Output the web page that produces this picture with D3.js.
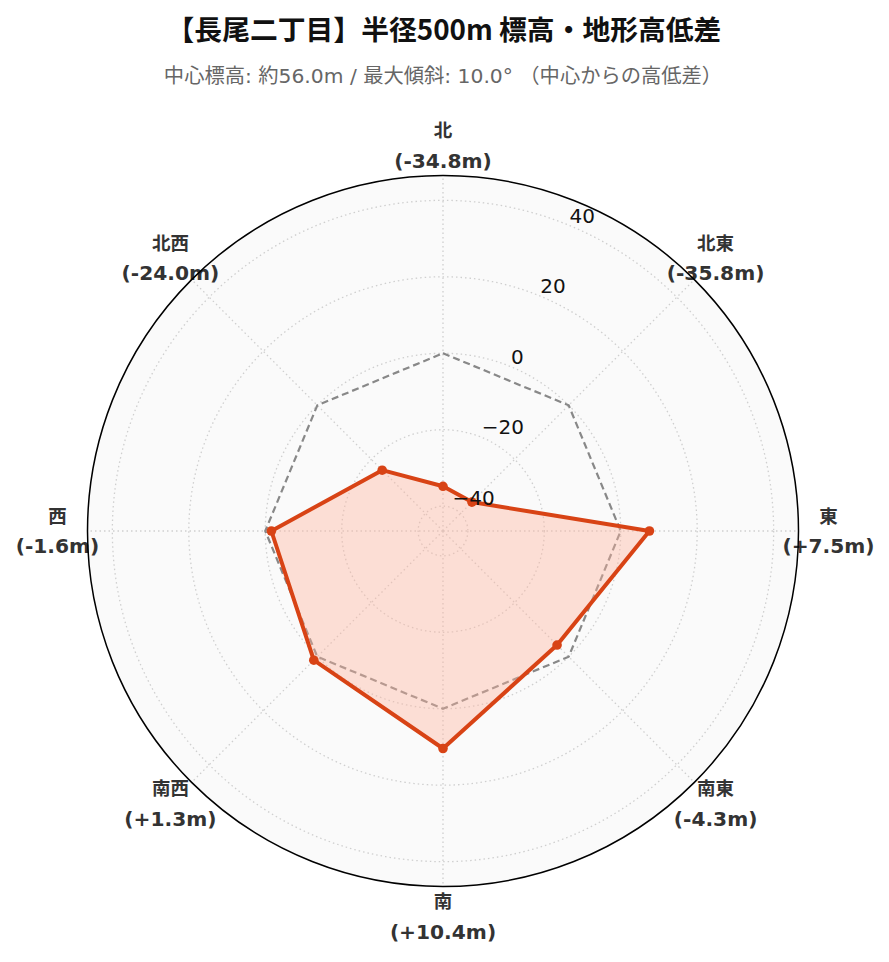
<!DOCTYPE html>
<html><head><meta charset="utf-8">
<script src="https://cdn.jsdelivr.net/npm/d3@7"></script>
<style>body{margin:0;background:#fff;} svg{display:block;}</style>
</head><body>
<svg id="chart" width="889" height="962"></svg>
<script>
const directions = ["北","北東","東","南東","南","南西","西","北西"];
const diffs = [-34.8, -35.8, 7.5, -4.3, 10.4, 1.3, -1.6, -24.0];
const diffLabels = ["-34.8m","-35.8m","+7.5m","-4.3m","+10.4m","+1.3m","-1.6m","-24.0m"];
const radialTicks = [-40, -20, 0, 20, 40];
const referenceValue = 0;
const title = "【長尾二丁目】半径500m 標高・地形高低差";
const subtitle = "中心標高: 約56.0m / 最大傾斜: 10.0° （中心からの高低差）";

const svg = d3.select("#chart");
const cx = 443, cy = 531, R = 355.5;
const lim = 46.5;
const r = d3.scaleLinear().domain([-lim, lim]).range([0, R]);
const ang = d3.scaleLinear().domain([0, directions.length]).range([0, 2*Math.PI]);
const font = "'DejaVu Sans','Noto Sans CJK JP',sans-serif";

svg.append("text").attr("x", 444).attr("y", 28).attr("text-anchor","middle")
  .attr("dominant-baseline","central").attr("font-family","'Noto Sans CJK JP',sans-serif")
  .attr("font-weight","bold").attr("font-size", 27.8).attr("fill","#111").text(title);
svg.append("text").attr("x", 443).attr("y", 76).attr("text-anchor","middle")
  .attr("dominant-baseline","central").attr("font-family", font)
  .attr("font-size", 20.3).attr("fill","#666").text(subtitle);

const g = svg.append("g").attr("transform", `translate(${cx},${cy})`);
g.append("circle").attr("r", R).attr("fill", "#fafafa");

// grid circles
g.selectAll("circle.grid").data(radialTicks).join("circle").attr("class","grid")
  .attr("r", d => r(d)).attr("fill","none").attr("stroke","#cfcfcf")
  .attr("stroke-width",1.3).attr("stroke-dasharray","1.5,3");
// spokes
g.selectAll("line.spoke").data(directions).join("line").attr("class","spoke")
  .attr("x1",0).attr("y1",0)
  .attr("x2",(d,i)=>R*Math.sin(ang(i))).attr("y2",(d,i)=>-R*Math.cos(ang(i)))
  .attr("stroke","#cfcfcf").attr("stroke-width",1.3).attr("stroke-dasharray","1.5,3");

const pt = (v,i) => [r(v)*Math.sin(ang(i)), -r(v)*Math.cos(ang(i))];
const line = d3.line().curve(d3.curveLinearClosed);

// reference polygon
g.append("path").attr("d", line(directions.map((d,i)=>pt(referenceValue,i))))
  .attr("fill","none").attr("stroke","#888").attr("stroke-width",2.2).attr("stroke-dasharray","7,4");

// data polygon
const pts = diffs.map((v,i)=>pt(v,i));
g.append("path").attr("d", line(pts)).attr("fill","rgb(255,180,158)").attr("fill-opacity",0.4)
  .attr("stroke","#d84315").attr("stroke-width",4).attr("stroke-linejoin","round");
g.selectAll("circle.pt").data(pts).join("circle").attr("class","pt")
  .attr("cx",d=>d[0]).attr("cy",d=>d[1]).attr("r",4.8).attr("fill","#d84315");

// radial tick labels
const la = Math.PI/8;
g.selectAll("text.rt").data(radialTicks).join("text").attr("class","rt")
  .attr("x", d => r(d)*Math.sin(la)).attr("y", d => -r(d)*Math.cos(la) - 3)
  .attr("text-anchor","start").attr("font-family",font).attr("font-size",20)
  .attr("fill","#111").text(d => d < 0 ? "\u2212" + Math.abs(d) : d);

// direction labels
const LR = 385.5;
const lab = g.selectAll("g.lab").data(directions).join("g").attr("class","lab")
  .attr("transform",(d,i)=>`translate(${LR*Math.sin(ang(i))},${-LR*Math.cos(ang(i))})`);
lab.append("text").attr("y",-15).attr("text-anchor","middle").attr("dominant-baseline","central")
  .attr("font-family",font).attr("font-weight","bold").attr("font-size",18.5).attr("fill","#333").text(d=>d);
lab.append("text").attr("y",15).attr("text-anchor","middle").attr("dominant-baseline","central")
  .attr("font-family",font).attr("font-weight","bold").attr("font-size",20.2).attr("fill","#333")
  .text((d,i)=>"(" + diffLabels[i] + ")");

// outer circle on top
g.append("circle").attr("r", R).attr("fill","none").attr("stroke","#000").attr("stroke-width",1.5);
</script>
</body></html>
